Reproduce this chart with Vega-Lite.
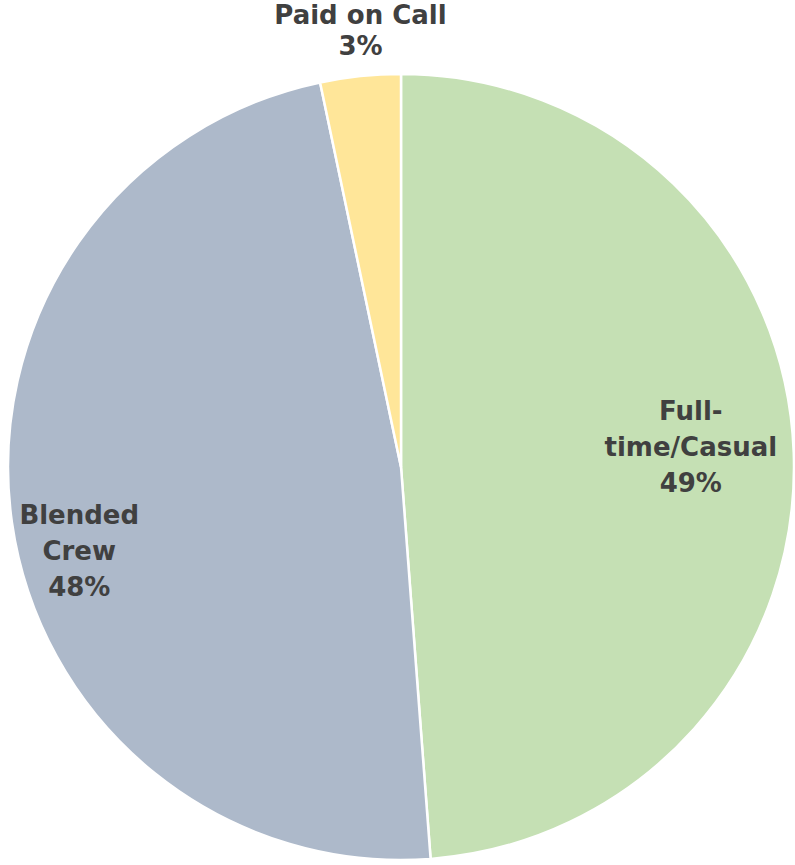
{
  "$schema": "https://vega.github.io/schema/vega-lite/v6.json",
  "width": 786,
  "height": 786,
  "autosize": "none",
  "padding": {"left": 8, "top": 74, "right": 1, "bottom": 5},
  "background": "white",
  "view": {"stroke": null},
  "data": {
    "values": [
      {"category": "Full-time/Casual", "value": 48.8, "order": 1, "label": "Full-|time/Casual|49%"},
      {"category": "Blended Crew", "value": 47.9, "order": 2, "label": "Blended|Crew|48%"},
      {"category": "Paid on Call", "value": 3.3, "order": 3, "label": "Paid on Call|3%"}
    ]
  },
  "encoding": {
    "theta": {"field": "value", "type": "quantitative", "stack": true},
    "order": {"field": "order", "type": "quantitative"}
  },
  "layer": [
    {
      "mark": {"type": "arc", "stroke": "white", "strokeWidth": 2.5},
      "encoding": {
        "color": {
          "field": "category",
          "type": "nominal",
          "scale": {
            "domain": ["Full-time/Casual", "Blended Crew", "Paid on Call"],
            "range": ["#C5E0B4", "#ADB9CA", "#FFE699"]
          },
          "legend": null
        }
      }
    },
    {
      "mark": {"type": "text", "radius": 290, "dy": -44, "font": "DejaVu Sans", "fontWeight": "bold", "fontSize": 26, "fill": "#404040", "lineBreak": "|", "lineHeight": 36, "align": "center", "baseline": "middle"},
      "encoding": {
        "text": {"condition": {"test": "datum.category === 'Full-time/Casual'", "field": "label"}, "value": ""}
      }
    },
    {
      "mark": {"type": "text", "radius": 325, "dy": 3, "font": "DejaVu Sans", "fontWeight": "bold", "fontSize": 26, "fill": "#404040", "lineBreak": "|", "lineHeight": 36, "align": "center", "baseline": "middle"},
      "encoding": {
        "text": {"condition": {"test": "datum.category === 'Blended Crew'", "field": "label"}, "value": ""}
      }
    },
    {
      "mark": {"type": "text", "radius": 440, "dy": -13, "dx": 5, "font": "DejaVu Sans", "fontWeight": "bold", "fontSize": 26, "fill": "#404040", "lineBreak": "|", "lineHeight": 31, "align": "center", "baseline": "middle"},
      "encoding": {
        "text": {"condition": {"test": "datum.category === 'Paid on Call'", "field": "label"}, "value": ""}
      }
    }
  ]
}
